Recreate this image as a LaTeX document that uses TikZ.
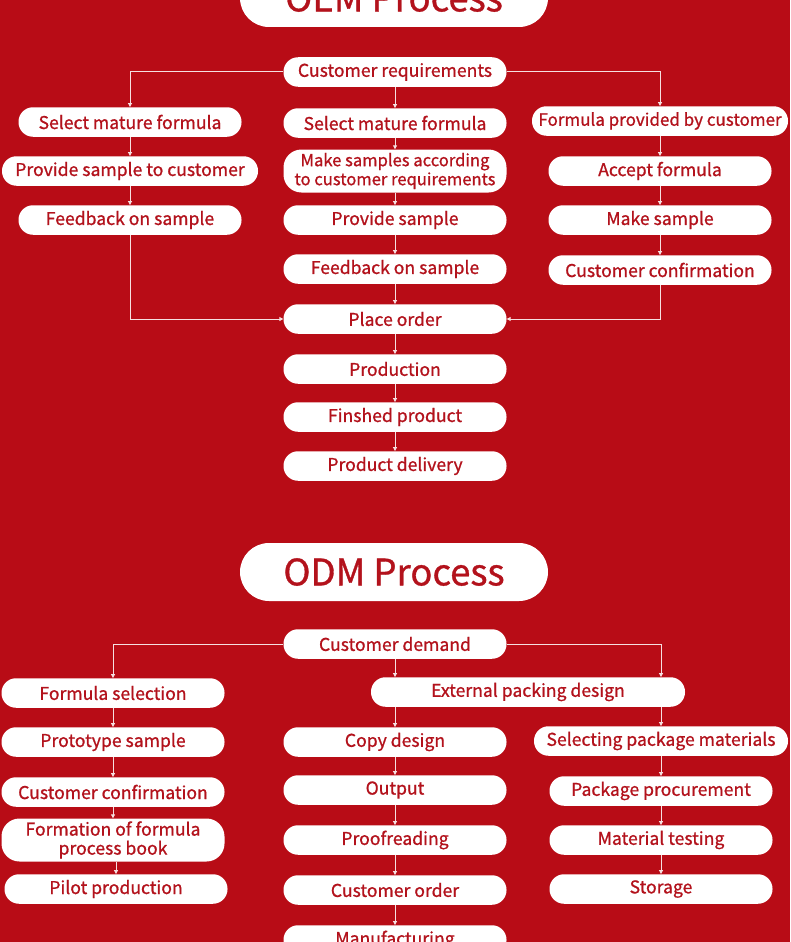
\documentclass[tikz,border=0pt]{standalone}
\usepackage{fontspec}
\setmainfont{Noto Sans CJK SC}
\newfontfamily\medfont{Noto Sans CJK SC}[FakeBold=0.9]
\usetikzlibrary{arrows.meta}
\definecolor{bgred}{HTML}{B80C16}
\definecolor{txtred}{HTML}{B3121C}
\definecolor{linepink}{HTML}{F6E0E1}

\begin{document}
\begin{tikzpicture}[x=1pt, y=-1pt,
    stepbox/.style={fill=white, rounded corners=14.5pt, minimum height=29.5pt, minimum width=223pt, inner sep=0pt, align=center, text=txtred, font=\medfont\fontsize{17.6}{19}\selectfont},
    wide/.style={minimum width=256pt},
    tall/.style={minimum height=43pt, rounded corners=18pt},
    titlebox/.style={fill=white, rounded corners=29pt, minimum height=58pt, minimum width=308pt, inner sep=0pt, text=txtred, font=\medfont\fontsize{36.5}{40}\selectfont},
    arr/.style={draw=linepink, line width=1pt, -{Triangle[length=4pt,width=4pt]}}
]
\useasboundingbox (0,0) rectangle (790,942);
\clip (0,0) rectangle (790,942);
\fill[bgred] (0,0) rectangle (790,942);

% OEM part
\node[titlebox] (oem) at (394,-2) {OEM Process};
\node[stepbox] (creq) at (395,72) {Customer requirements};
\node[stepbox] (lsel) at (130,122) {Select mature formula};
\node[stepbox, wide] (lprov) at (130,171) {Provide sample to customer};
\node[stepbox] (lfeed) at (130,220) {Feedback on sample};
\node[stepbox] (msel) at (395,123) {Select mature formula};
\node[stepbox, tall, font=\medfont\fontsize{16.6}{19}\selectfont] (mmake) at (395,171) {Make samples according\\to customer requirements};
\node[stepbox] (mprov) at (395,220) {Provide sample};
\node[stepbox] (mfeed) at (395,269) {Feedback on sample};
\node[stepbox] (order) at (395,319) {Place order};
\node[stepbox] (prod) at (395,369) {Production};
\node[stepbox] (fin) at (395,417) {Finshed product};
\node[stepbox] (deliv) at (395,466) {Product delivery};
\node[stepbox, wide, font=\medfont\fontsize{17}{19}\selectfont] (rform) at (660,121) {Formula provided by customer};
\node[stepbox] (racc) at (660,171) {Accept formula};
\node[stepbox] (rmake) at (660,220) {Make sample};
\node[stepbox] (rconf) at (660,270) {Customer confirmation};

\draw[arr] (creq.west) -| (lsel.north);
\draw[arr] (creq.east) -| (rform.north);
\foreach \a/\b in {creq/msel, msel/mmake, mmake/mprov, mprov/mfeed, mfeed/order,
    order/prod, prod/fin, fin/deliv, lsel/lprov, lprov/lfeed, rform/racc, racc/rmake, rmake/rconf}
  \draw[arr] (\a.south) -- (\b.north);
\draw[arr] (lfeed.south) |- (order.west);
\draw[arr] (rconf.south) |- (order.east);

% ODM part
\node[titlebox] (odm) at (394,572) {ODM Process};
\node[stepbox] (cdem) at (395,644) {Customer demand};
\node[stepbox] (fsel) at (113,693) {Formula selection};
\node[stepbox] (proto) at (113,742) {Prototype sample};
\node[stepbox] (lconf) at (113,792) {Customer confirmation};
\node[stepbox, tall] (book) at (113,840) {Formation of formula\\process book};
\node[stepbox] (pilot) at (116,889) {Pilot production};
\node[stepbox, minimum width=314pt] (ext) at (528,692) {External packing design};
\node[stepbox] (copy) at (395,742) {Copy design};
\node[stepbox] (outp) at (395,790) {Output};
\node[stepbox] (proof) at (395,840) {Proofreading};
\node[stepbox] (corder) at (395,890) {Customer order};
\node[stepbox] (manu) at (395,940) {Manufacturing};
\node[stepbox, minimum width=254pt] (selpack) at (661,741) {Selecting package materials};
\node[stepbox] (proc) at (661,791) {Package procurement};
\node[stepbox] (mtest) at (661,840) {Material testing};
\node[stepbox] (stor) at (661,889) {Storage};

\draw[arr] (cdem.west) -| (fsel.north);
\draw[arr] (cdem.east) -| (selpack |- ext.north);
\draw[arr] (cdem.south) -- (cdem.south |- ext.north);
\draw[arr] (copy |- ext.south) -- (copy.north);
\draw[arr] (selpack |- ext.south) -- (selpack.north);
\foreach \a/\b in {fsel/proto, proto/lconf, lconf/book, copy/outp, outp/proof, proof/corder,
    corder/manu, selpack/proc, proc/mtest, mtest/stor}
  \draw[arr] (\a.south) -- (\b.north);
\draw[arr] (book.south -| pilot.north) -- (pilot.north);
\end{tikzpicture}
\end{document}
